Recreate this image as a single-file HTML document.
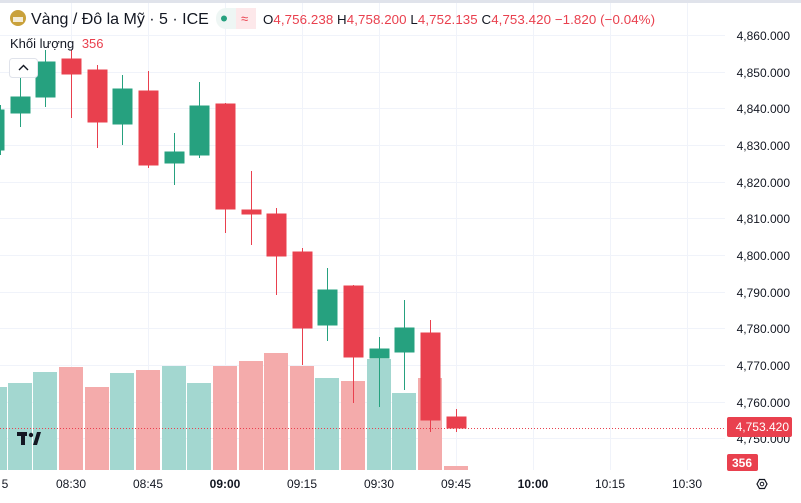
<!DOCTYPE html>
<html><head><meta charset="utf-8"><style>
body{margin:0;width:801px;height:498px;overflow:hidden;background:#fff;font-family:"Liberation Sans","Noto Sans CJK JP",sans-serif}
</style></head><body>
<svg width="801" height="498" xmlns="http://www.w3.org/2000/svg" font-family="Liberation Sans, sans-serif">
<g stroke="#f0f3fa" stroke-width="1">
<line x1="71.5" y1="0" x2="71.5" y2="470"/><line x1="148.5" y1="0" x2="148.5" y2="470"/><line x1="225.5" y1="0" x2="225.5" y2="470"/><line x1="302.5" y1="0" x2="302.5" y2="470"/><line x1="379.5" y1="0" x2="379.5" y2="470"/><line x1="456.5" y1="0" x2="456.5" y2="470"/><line x1="533.5" y1="0" x2="533.5" y2="470"/><line x1="610.5" y1="0" x2="610.5" y2="470"/><line x1="687.5" y1="0" x2="687.5" y2="470"/>
<line x1="0" y1="35.5" x2="725" y2="35.5"/><line x1="0" y1="72.5" x2="725" y2="72.5"/><line x1="0" y1="108.5" x2="725" y2="108.5"/><line x1="0" y1="145.5" x2="725" y2="145.5"/><line x1="0" y1="182.5" x2="725" y2="182.5"/><line x1="0" y1="218.5" x2="725" y2="218.5"/><line x1="0" y1="255.5" x2="725" y2="255.5"/><line x1="0" y1="292.5" x2="725" y2="292.5"/><line x1="0" y1="328.5" x2="725" y2="328.5"/><line x1="0" y1="365.5" x2="725" y2="365.5"/><line x1="0" y1="402.5" x2="725" y2="402.5"/><line x1="0" y1="438.5" x2="725" y2="438.5"/>
</g>
<g>
<rect x="-5" y="387" width="12" height="83" fill="#a3d7d0"/>
<rect x="8" y="383" width="24" height="87" fill="#a3d7d0"/>
<rect x="33" y="372" width="24" height="98" fill="#a3d7d0"/>
<rect x="59" y="367" width="24" height="103" fill="#f4abab"/>
<rect x="85" y="387" width="24" height="83" fill="#f4abab"/>
<rect x="110" y="373" width="24" height="97" fill="#a3d7d0"/>
<rect x="136" y="370" width="24" height="100" fill="#f4abab"/>
<rect x="162" y="366" width="24" height="104" fill="#a3d7d0"/>
<rect x="187" y="383" width="24" height="87" fill="#a3d7d0"/>
<rect x="213" y="366" width="24" height="104" fill="#f4abab"/>
<rect x="239" y="361" width="24" height="109" fill="#f4abab"/>
<rect x="264" y="353" width="24" height="117" fill="#f4abab"/>
<rect x="290" y="366" width="24" height="104" fill="#f4abab"/>
<rect x="315" y="378" width="24" height="92" fill="#a3d7d0"/>
<rect x="341" y="381" width="24" height="89" fill="#f4abab"/>
<rect x="367" y="359" width="24" height="111" fill="#a3d7d0"/>
<rect x="392" y="393" width="24" height="77" fill="#a3d7d0"/>
<rect x="418" y="378" width="24" height="92" fill="#f4abab"/>
<rect x="444" y="466" width="24" height="4" fill="#f4abab"/>
</g>
<g stroke-width="1">
<g fill="#26a17f" stroke="#26a17f"><line x1="0.5" y1="105" x2="0.5" y2="155"/><rect x="-8" y="110" width="12" height="40"/></g>
<g fill="#26a17f" stroke="#26a17f"><line x1="20.5" y1="75" x2="20.5" y2="127"/><rect x="11" y="97" width="19" height="16"/></g>
<g fill="#26a17f" stroke="#26a17f"><line x1="45.5" y1="50" x2="45.5" y2="107"/><rect x="36" y="62" width="19" height="35"/></g>
<g fill="#e9404e" stroke="#e9404e"><line x1="71.5" y1="50" x2="71.5" y2="118"/><rect x="62" y="59" width="19" height="15"/></g>
<g fill="#e9404e" stroke="#e9404e"><line x1="97.5" y1="65" x2="97.5" y2="148"/><rect x="88" y="70" width="19" height="52"/></g>
<g fill="#26a17f" stroke="#26a17f"><line x1="122.5" y1="75" x2="122.5" y2="145"/><rect x="113" y="89" width="19" height="35"/></g>
<g fill="#e9404e" stroke="#e9404e"><line x1="148.5" y1="71" x2="148.5" y2="168"/><rect x="139" y="91" width="19" height="74"/></g>
<g fill="#26a17f" stroke="#26a17f"><line x1="174.5" y1="133" x2="174.5" y2="185"/><rect x="165" y="152" width="19" height="11"/></g>
<g fill="#26a17f" stroke="#26a17f"><line x1="199.5" y1="82" x2="199.5" y2="158"/><rect x="190" y="106" width="19" height="49"/></g>
<g fill="#e9404e" stroke="#e9404e"><line x1="225.5" y1="103" x2="225.5" y2="233"/><rect x="216" y="104" width="19" height="105"/></g>
<g fill="#e9404e" stroke="#e9404e"><line x1="251.5" y1="171" x2="251.5" y2="245"/><rect x="242" y="210" width="19" height="4"/></g>
<g fill="#e9404e" stroke="#e9404e"><line x1="276.5" y1="208" x2="276.5" y2="295"/><rect x="267" y="214" width="19" height="42"/></g>
<g fill="#e9404e" stroke="#e9404e"><line x1="302.5" y1="248" x2="302.5" y2="365"/><rect x="293" y="252" width="19" height="76"/></g>
<g fill="#26a17f" stroke="#26a17f"><line x1="327.5" y1="268" x2="327.5" y2="341"/><rect x="318" y="290" width="19" height="35"/></g>
<g fill="#e9404e" stroke="#e9404e"><line x1="353.5" y1="285" x2="353.5" y2="403"/><rect x="344" y="286" width="19" height="71"/></g>
<g fill="#26a17f" stroke="#26a17f"><line x1="379.5" y1="337" x2="379.5" y2="407"/><rect x="370" y="349" width="19" height="9"/></g>
<g fill="#26a17f" stroke="#26a17f"><line x1="404.5" y1="300" x2="404.5" y2="390"/><rect x="395" y="328" width="19" height="24"/></g>
<g fill="#e9404e" stroke="#e9404e"><line x1="430.5" y1="320" x2="430.5" y2="432"/><rect x="421" y="333" width="19" height="87"/></g>
<g fill="#e9404e" stroke="#e9404e"><line x1="456.5" y1="409" x2="456.5" y2="432"/><rect x="447" y="417" width="19" height="11"/></g>
</g>
<line x1="0" y1="428.5" x2="725" y2="428.5" stroke="#e9404e" stroke-dasharray="1,2"/>
<g font-size="12" fill="#131722" text-anchor="end">
<text x="790" y="40">4,860.000</text><text x="790" y="77">4,850.000</text><text x="790" y="113">4,840.000</text><text x="790" y="150">4,830.000</text><text x="790" y="187">4,820.000</text><text x="790" y="223">4,810.000</text><text x="790" y="260">4,800.000</text><text x="790" y="297">4,790.000</text><text x="790" y="333">4,780.000</text><text x="790" y="370">4,770.000</text><text x="790" y="407">4,760.000</text><text x="790" y="443">4,750.000</text>
</g>
<rect x="727" y="417" width="65" height="20" rx="2" fill="#e9404e"/>
<text x="789" y="431" font-size="12" fill="#fff" text-anchor="end">4,753.420</text>
<rect x="727" y="454" width="31" height="17" rx="2" fill="#e9404e"/>
<text x="742" y="467" font-size="12" fill="#fff" text-anchor="middle" font-weight="bold">356</text>
<g font-size="12" fill="#131722" text-anchor="middle">
<text x="5" y="488">5</text><text x="71" y="488">08:30</text><text x="148" y="488">08:45</text><text x="225" y="488" font-weight="bold">09:00</text><text x="302" y="488">09:15</text><text x="379" y="488">09:30</text><text x="456" y="488">09:45</text><text x="533" y="488" font-weight="bold">10:00</text><text x="610" y="488">10:15</text><text x="687" y="488">10:30</text>
</g>
<polygon points="757,484 759.5,479.5 764.5,479.5 767,484 764.5,488.5 759.5,488.5" fill="none" stroke="#131722" stroke-width="1.2"/>
<circle cx="762" cy="484" r="1.8" fill="none" stroke="#131722"/>
<rect x="0" y="0" width="801" height="3" fill="#e0e3eb"/>
<circle cx="18" cy="18" r="8" fill="#c9a13b"/>
<rect x="13" y="17" width="10" height="5" fill="#fff" opacity="0.8"/>
<text x="31" y="24" font-size="16" fill="#131722">Vàng / Đô la Mỹ · 5 · ICE</text>
<rect x="216" y="8" width="40" height="21" rx="10" fill="#eef6f4"/>
<rect x="236" y="8" width="20" height="21" fill="#fde8ea"/>
<circle cx="224" cy="18.5" r="3" fill="#26a17f"/>
<text x="241" y="23" font-size="13" fill="#e9404e">≈</text>
<g font-size="13.3">
<text x="263" y="24" fill="#131722" textLength="392">O<tspan fill="#e9404e">4,756.238</tspan> H<tspan fill="#e9404e">4,758.200</tspan> L<tspan fill="#e9404e">4,752.135</tspan> C<tspan fill="#e9404e">4,753.420</tspan> <tspan fill="#e9404e">−1.820 (−0.04%)</tspan></text>
</g>
<text x="10" y="48" font-size="13" fill="#131722">Khối lượng <tspan fill="#e9404e" dx="4">356</tspan></text>
<rect x="9.5" y="58.5" width="28" height="19" rx="3" fill="#fff" stroke="#e0e3eb"/>
<path d="M19 70 L23.5 65.5 L28 70" fill="none" stroke="#131722" stroke-width="1.4"/>
<g fill="#131722"><rect x="17" y="432" width="10" height="4"/><rect x="21" y="432" width="4" height="13"/><circle cx="31" cy="435" r="2.2"/><polygon points="33,445 37,432 41,432 37,445"/></g>
</svg>
</body></html>
